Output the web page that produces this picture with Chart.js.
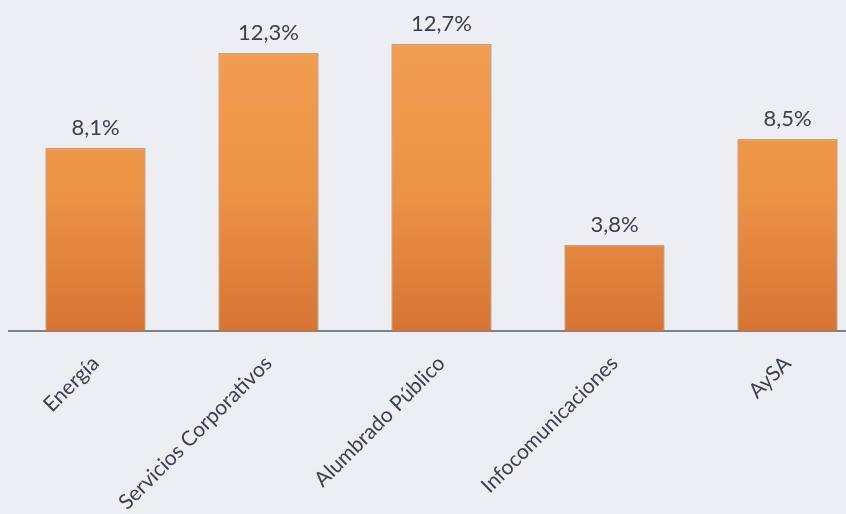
<!DOCTYPE html>
<html>
<head>
<meta charset="utf-8">
<script src="https://cdn.jsdelivr.net/npm/chart.js@4/dist/chart.umd.min.js"></script>
<style>
  html, body { margin: 0; padding: 0; background: #eceef2; overflow: hidden; }
  #wrap { width: 880px; height: 514px; position: relative; }
</style>
</head>
<body>
<div id="wrap"><canvas id="c"></canvas></div>
<script>
const categories = ["Energía", "Servicios Corporativos", "Alumbrado Público", "Infocomunicaciones", "AySA"];
const values = [8.1, 12.3, 12.7, 3.8, 8.5];
const valueLabels = ["8,1%", "12,3%", "12,7%", "3,8%", "8,5%"];

const FONT = "Lato, 'Liberation Sans', sans-serif";

const labelPlugin = {
  id: 'valueLabels',
  afterDatasetsDraw(chart) {
    const ctx = chart.ctx;
    const meta = chart.getDatasetMeta(0);
    ctx.save();
    ctx.fillStyle = '#3a4152';
    ctx.font = '22px ' + FONT;
    ctx.textAlign = 'center';
    ctx.textBaseline = 'bottom';
    meta.data.forEach((bar, i) => {
      ctx.fillText(valueLabels[i], bar.x, bar.y - 9);
    });
    ctx.restore();
  }
};

function barGradient(context) {
  const chart = context.chart;
  const area = chart.chartArea;
  if (!area) return '#e98c42';
  const g = chart.ctx.createLinearGradient(0, area.top, 0, area.bottom);
  g.addColorStop(0, '#f2a052');
  g.addColorStop(0.55, '#ec9446');
  g.addColorStop(1, '#d77434');
  return g;
}

new Chart(document.getElementById('c'), {
  type: 'bar',
  data: {
    labels: categories,
    datasets: [{
      data: values,
      backgroundColor: barGradient,
      borderColor: '#a65c28',
      borderWidth: 1,
      categoryPercentage: 1,
      barPercentage: 0.578
    }]
  },
  options: {
    responsive: true,
    maintainAspectRatio: false,
    animation: false,
    layout: { padding: { top: 15, left: 9, right: 6, bottom: 0 } },
    plugins: { legend: { display: false }, tooltip: { enabled: false } },
    scales: {
      x: {
        grid: { display: false, drawTicks: false },
        border: { display: true, color: '#7a8190', width: 2 },
        ticks: {
          minRotation: 45, maxRotation: 45,
          padding: 20,
          color: '#3a4152',
          font: { family: FONT, size: 21 }
        },
        afterFit(scale) { scale.height = 183; }
      },
      y: {
        display: false,
        min: 0, max: 14
      }
    }
  },
  plugins: [labelPlugin]
});
</script>
</body>
</html>
